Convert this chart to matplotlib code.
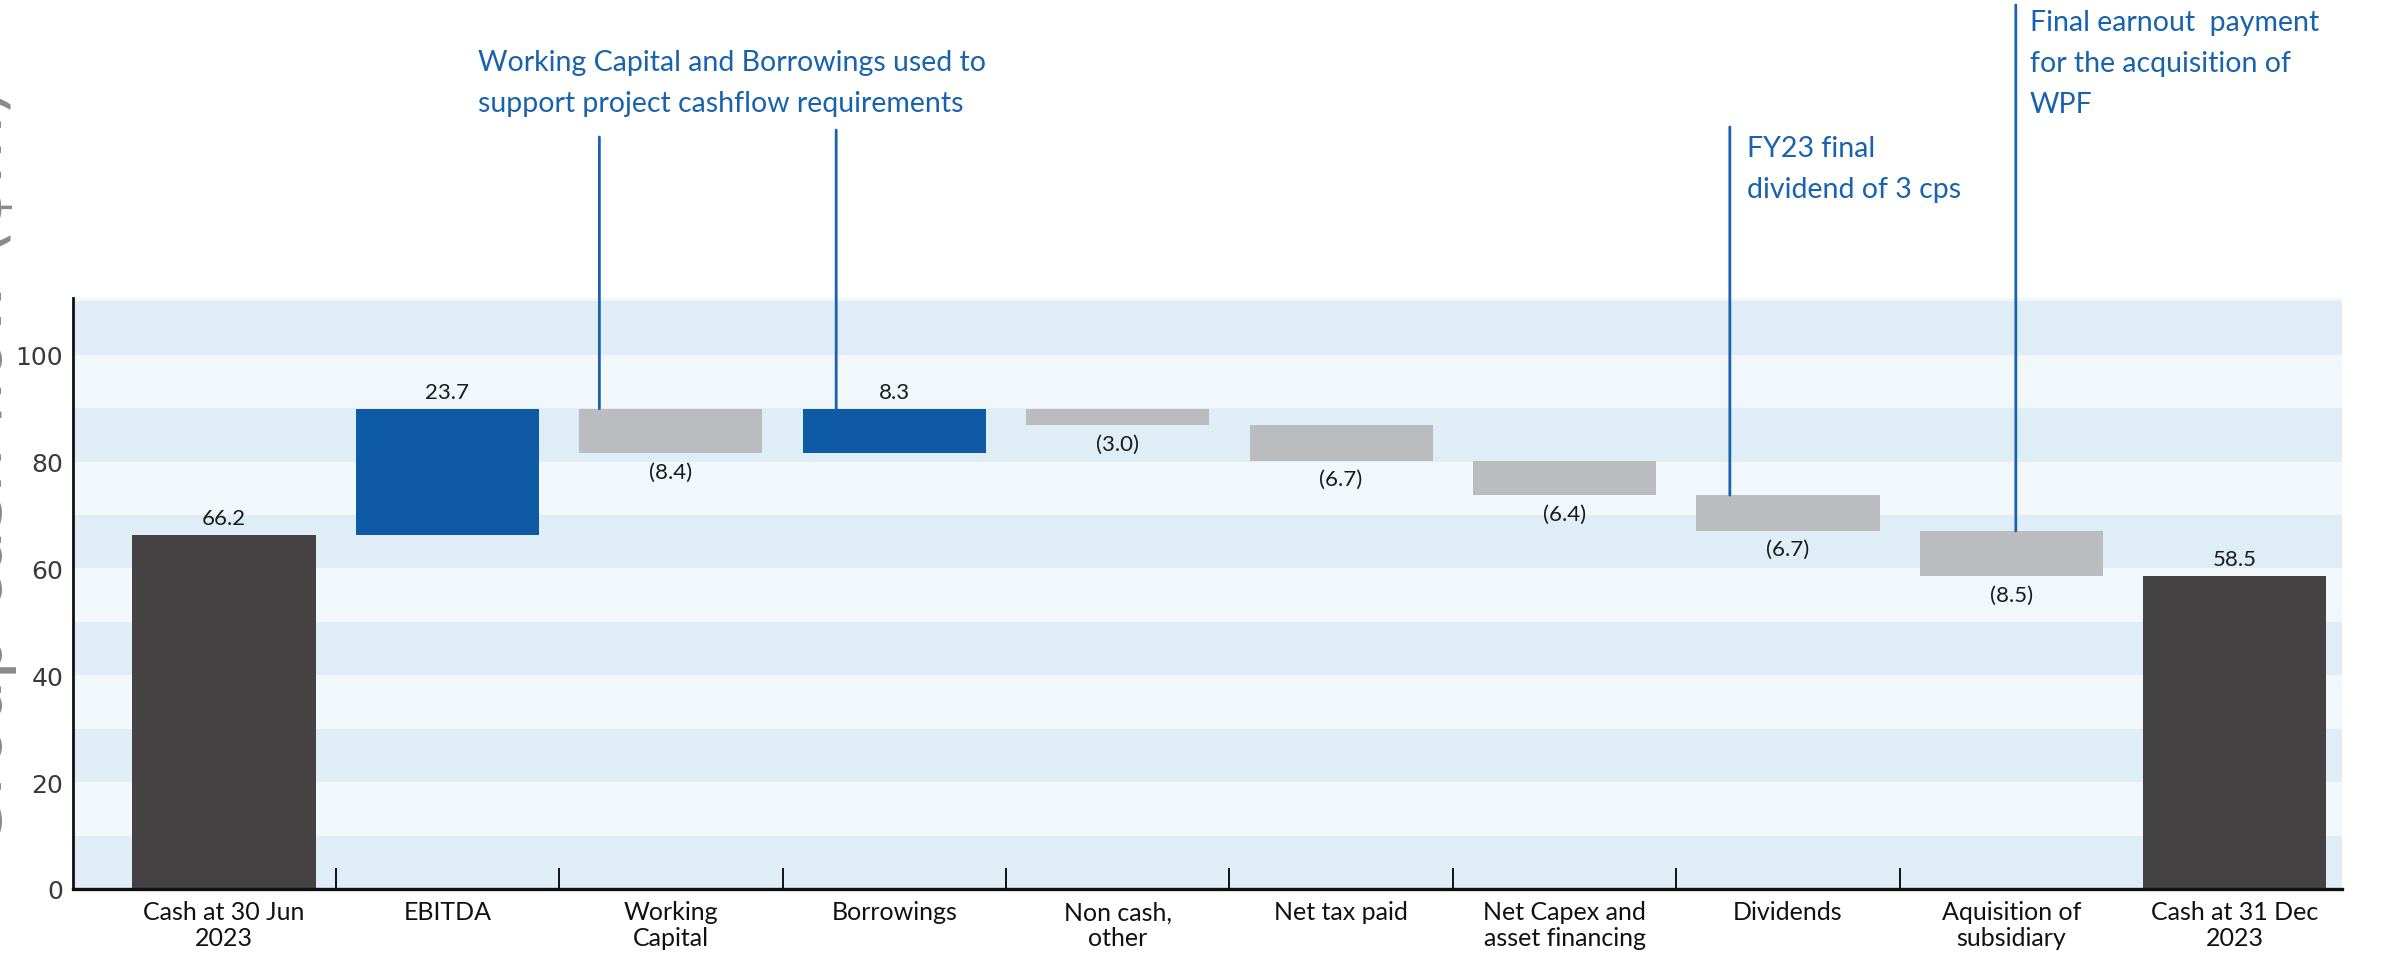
import matplotlib
matplotlib.use("Agg")
import matplotlib.pyplot as plt
import matplotlib.transforms as mtransforms
import numpy as np

# ---------------- data ----------------
categories = ["Cash at 30 Jun\n2023", "EBITDA", "Working\nCapital", "Borrowings",
              "Non cash,\nother", "Net tax paid", "Net Capex and\nasset financing",
              "Dividends", "Aquisition of\nsubsidiary", "Cash at 31 Dec\n2023"]
values = [66.2, 23.7, -8.4, 8.3, -3.0, -6.7, -6.4, -6.7, -8.5, 58.5]
value_labels = ["66.2", "23.7", "(8.4)", "8.3", "(3.0)", "(6.7)", "(6.4)", "(6.7)", "(8.5)", "58.5"]
bar_kind = ["total", "step", "step", "step", "step", "step", "step", "step", "step", "total"]
y_ticks = [0, 20, 40, 60, 80, 100]
y_label = "Group cash flow ($m)"

ann_texts = ["Working Capital and Borrowings used to\nsupport project cashflow requirements",
             "FY23 final\ndividend of 3 cps",
             "Final earnout  payment\nfor the acquisition of\nWPF"]

# ---------------- style ----------------
C_TOTAL = "#454243"
C_UP = "#0F5AA4"
C_DOWN = "#BBBCBF"
C_ANN = "#1862AE"
BAND_DARK = "#DFEEF6"
BAND_LIGHT = "#F1F7FB"
FONT = ["Lato", "DejaVu Sans"]

W, H = 2386, 962
fig = plt.figure(figsize=(W / 100, H / 100), dpi=100)
ax = fig.add_axes([73 / W, 1 - 890 / H, (2342 - 73) / W, (890 - 299) / H])

ymax = 110.6
ax.set_ylim(0, ymax)
ax.set_xlim(-0.676, 9.48)

# background bands
for k, lo in enumerate(np.arange(0, ymax, 10)):
    ax.axhspan(lo, min(lo + 10, ymax), color=BAND_DARK if k % 2 == 0 else BAND_LIGHT,
               lw=0, zorder=0)

# waterfall computation
bottoms, heights, colors, tops = [], [], [], []
running = 0.0
for v, kind in zip(values, bar_kind):
    if kind == "total":
        b, h, c = 0.0, v, C_TOTAL
        running = v
    else:
        if v >= 0:
            b, h, c = running, v, C_UP
        else:
            b, h, c = running + v, -v, C_DOWN
        running += v
    bottoms.append(b)
    heights.append(h)
    colors.append(c)
    tops.append(b + h)

x = np.arange(len(categories))
ax.bar(x, heights, bottom=bottoms, width=0.82, color=colors, zorder=2, lw=0)

# value labels
for xi, v, lab, b, t, kind in zip(x, values, value_labels, bottoms, tops, bar_kind):
    if kind == "total" or v >= 0:
        ax.annotate(lab, (xi, t), xytext=(0, 5), textcoords="offset points",
                    ha="center", va="bottom", fontsize=16, color="#1a1a1a",
                    family=FONT, zorder=3)
    else:
        ax.annotate(lab, (xi, b), xytext=(0, -6), textcoords="offset points",
                    ha="center", va="top", fontsize=16, color="#1a1a1a",
                    family=FONT, zorder=3)

# axes styling
for s in ["top", "right"]:
    ax.spines[s].set_visible(False)
ax.spines["left"].set_linewidth(2.0)
ax.spines["bottom"].set_linewidth(2.4)
ax.spines["left"].set_color("#111111")
ax.spines["bottom"].set_color("#111111")
ax.spines["left"].set_zorder(4)
ax.spines["bottom"].set_zorder(4)

ax.set_xticks(x)
ax.set_xticklabels(categories, fontsize=18, family=FONT, color="#111111", linespacing=1.15)
ax.tick_params(axis="x", which="major", length=0, pad=8)
ax.set_xticks(x[:-2] + 0.5, minor=True)
ax.tick_params(axis="x", which="minor", direction="in", length=15, width=1.4,
               color="#111111")

ax.set_yticks(y_ticks)
ax.set_yticklabels([str(t) for t in y_ticks], fontsize=18, color="#3a3a3a",
                   family=["DejaVu Sans"])
ax.tick_params(axis="y", length=0, pad=7)

# partially visible y label at the figure's left edge
fig.text(2 / W, 1 - 850 / H, y_label, rotation=90, rotation_mode="anchor",
         ha="left", va="baseline", fontsize=51, color="#8a8a8a",
         family=["DejaVu Sans"])

# annotation lines (from bar tops up to a figure height)
blend = mtransforms.blended_transform_factory(ax.transData, fig.transFigure)
ann_lines = [(2, -0.32, 138), (3, -0.26, 131), (7, -0.26, 128), (8, 0.02, 6)]
for idx, dx, ytop_px in ann_lines:
    ax.annotate("", xy=(x[idx] + dx, tops[idx]), xycoords="data",
                xytext=(x[idx] + dx, 1 - ytop_px / H), textcoords=blend,
                arrowprops=dict(arrowstyle="-", color=C_ANN, lw=2.0,
                                shrinkA=0, shrinkB=0),
                annotation_clip=False, zorder=5)

ann_pos = [(478, 50), (1747, 136), (2030, 10)]
for txt, (px, py) in zip(ann_texts, ann_pos):
    fig.text(px / W, 1 - py / H, txt, ha="left", va="top", fontsize=20.5,
             color=C_ANN, family=FONT, linespacing=1.72)

fig.savefig("out.png", dpi=100)
